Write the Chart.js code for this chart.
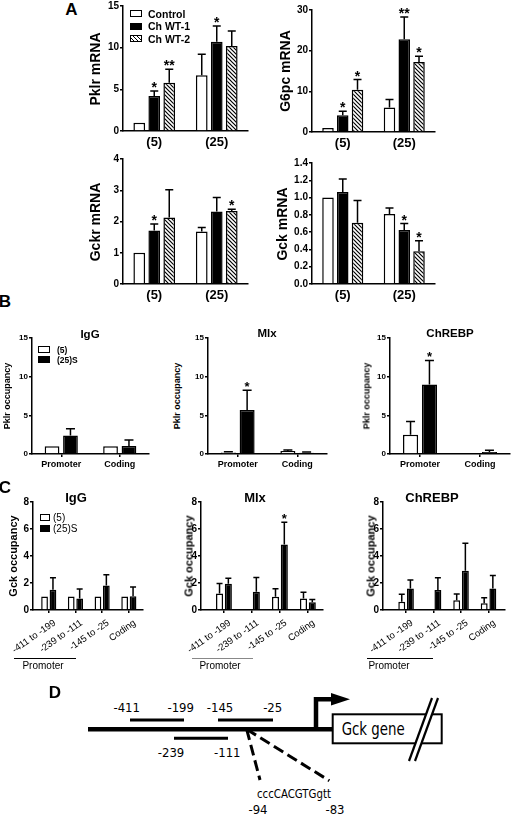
<!DOCTYPE html>
<html>
<head>
<meta charset="utf-8">
<script src="https://cdn.jsdelivr.net/npm/chart.js@4/dist/chart.umd.min.js"></script>
<style>
  body { margin: 0; background: #fff; }
  #fig { position: relative; width: 511px; height: 814px; overflow: hidden; background: #fff;
         font-family: 'Liberation Sans', Arial, sans-serif; }
  #fig canvas { position: absolute; }
  .t { position: absolute; white-space: nowrap; font-weight: bold; color: #000; line-height: 1;
       transform: translate(-50%, -50%); }
  .t.r { transform: translate(-50%, -50%) rotate(-90deg); }
  .t.l { transform: translate(0, -50%); }
  .sw { position: absolute; box-sizing: border-box; border: 1.5px solid #000; }
  .rule { position: absolute; height: 0; border-top: 1px solid #000; }
</style>
</head>
<body>
<div id="fig">
<svg width="511" height="144" style="position:absolute;left:0;top:670px"
     font-family="'Liberation Sans Narrow','DejaVu Sans Condensed',sans-serif" font-size="13">
  <line x1="88" y1="59.3" x2="333" y2="59.3" stroke="#000" stroke-width="4.5"/>
  <line x1="130" y1="50" x2="184" y2="50" stroke="#000" stroke-width="3"/>
  <line x1="218" y1="50" x2="273" y2="50" stroke="#000" stroke-width="3"/>
  <line x1="174" y1="68.3" x2="228" y2="68.3" stroke="#000" stroke-width="3"/>
  <text x="126.7" y="41.7" text-anchor="middle">-411</text>
  <text x="180.7" y="41.7" text-anchor="middle">-199</text>
  <text x="220" y="41.7" text-anchor="middle">-145</text>
  <text x="272.7" y="41.7" text-anchor="middle">-25</text>
  <text x="171" y="87" text-anchor="middle">-239</text>
  <text x="227.3" y="87" text-anchor="middle">-111</text>
  <line x1="246.7" y1="59.3" x2="260" y2="110" stroke="#000" stroke-width="3" stroke-dasharray="11 5"/>
  <line x1="246.7" y1="59.3" x2="329.3" y2="110.7" stroke="#000" stroke-width="3" stroke-dasharray="11 5"/>
  <text x="257" y="128" textLength="74" lengthAdjust="spacingAndGlyphs">cccCACGTGgtt</text>
  <text x="258" y="143.5" text-anchor="middle">-94</text>
  <text x="335" y="143.5" text-anchor="middle">-83</text>
  <polyline points="316,61 316,29.3 333,29.3" fill="none" stroke="#000" stroke-width="4.5"/>
  <polygon points="331,23 350,29.3 331,35.5" fill="#000"/>
  <rect x="332.7" y="44.3" width="109" height="29" fill="#fff" stroke="#000" stroke-width="2"/>
  <text x="341.7" y="65" font-size="18" textLength="63" lengthAdjust="spacingAndGlyphs">Gck gene</text>
  <polygon points="409,91 432,28 438,28 415,91" fill="#fff"/>
  <line x1="409" y1="91" x2="432" y2="28" stroke="#000" stroke-width="2.2"/>
  <line x1="415" y1="91" x2="438" y2="28" stroke="#000" stroke-width="2.2"/>
</svg>
</div>
<script>
// Panel A: mRNA, per series [(5), (25)]
const groupsA = ['(5)', '(25)'];
const seriesA = ['Control', 'Ch WT-1', 'Ch WT-2'];
const pklrValues = [[1.0, 6.7], [4.2, 10.7], [5.8, 10.2]];
const pklrErrors = [[0, 2.5], [0.6, 1.9], [1.6, 1.8]];
const pklrStars = [['', ''], ['*', '*'], ['**', '']];
const g6pcValues = [[1.0, 6.0], [4.1, 22.8], [10.4, 17.2]];
const g6pcErrors = [[0, 2.0], [1.0, 5.5], [2.5, 1.4]];
const g6pcStars = [['', ''], ['*', '**'], ['*', '*']];
const gckrValues = [[1.0, 1.68], [1.71, 2.32], [2.13, 2.34]];
const gckrErrors = [[0, 0.13], [0.21, 0.45], [0.89, 0.05]];
const gckrStars = [['', ''], ['*', ''], ['', '*']];
const gckValues = [[1.0, 0.81], [1.065, 0.625], [0.71, 0.38]];
const gckErrors = [[0, 0.07], [0.15, 0.075], [0.255, 0.12]];
const gckStars = [['', ''], ['', '*'], ['', '*']];

// Panel B: Pklr occupancy, per series [Promoter, Coding]
const regionsB = ['Promoter', 'Coding'];
const seriesBC = ['(5)', '(25)S'];
const igGPklrValues = [[1.0, 1.0], [2.4, 1.05]];
const igGPklrErrors = [[0, 0], [0.85, 0.75]];
const mlxPklrValues = [[0.2, 0.38], [5.7, 0.15]];
const mlxPklrErrors = [[0.1, 0.15], [2.55, 0.1]];
const mlxPklrStars = [['', ''], ['*', '']];
const chrebpPklrValues = [[2.5, null], [9.0, 0.25]];
const chrebpPklrErrors = [[1.7, 0], [3.1, 0.22]];
const chrebpPklrStars = [['', ''], ['*', '']];

// Panel C: Gck occupancy, per series over regions
const regionsC = ['-411 to -199', '-239 to -111', '-145 to -25', 'Coding'];
const igGGckValues = [[1.0, 1.0, 1.0, 1.0], [1.5, 0.85, 1.82, 1.02]];
const igGGckErrors = [[0, 0, 0, 0], [0.88, 0.7, 0.8, 0.68]];
const mlxGckValues = [[1.22, null, 0.98, 0.85], [1.95, 1.35, 4.85, 0.57]];
const mlxGckErrors = [[0.75, 0, 0.6, 0.47], [0.4, 1.05, 1.65, 0.2]];
const mlxGckStars = [['', '', '', ''], ['', '', '*', '']];
const chrebpGckValues = [[0.62, null, 0.73, 0.5], [1.6, 1.48, 2.9, 1.6]];
const chrebpGckErrors = [[0.55, 0, 0.45, 0.4], [0.63, 0.9, 2.05, 0.95]];

const FONT = "'Liberation Sans', Arial, sans-serif";
Chart.defaults.font.family = FONT;
Chart.defaults.color = '#000';

const fig = document.getElementById('fig');

function hatch() {
  const c = document.createElement('canvas');
  c.width = 4; c.height = 4;
  const g = c.getContext('2d');
  g.fillStyle = '#fff';
  g.fillRect(0, 0, 4, 4);
  g.strokeStyle = '#000';
  g.lineWidth = 1.2;
  g.beginPath();
  g.moveTo(-1, -1); g.lineTo(5, 5);
  g.moveTo(-1, 3); g.lineTo(1, 5);
  g.moveTo(3, -1); g.lineTo(5, 1);
  g.stroke();
  return g.createPattern(c, 'repeat');
}

function text(str, x, y, size, kind, weight) {
  const d = document.createElement('div');
  d.className = 't' + (kind ? ' ' + kind : '');
  d.textContent = str;
  d.style.left = x + 'px';
  d.style.top = y + 'px';
  d.style.fontSize = size + 'px';
  if (weight) d.style.fontWeight = weight;
  fig.appendChild(d);
}

function swatch(x, y, w, h, bg) {
  const d = document.createElement('div');
  d.className = 'sw';
  Object.assign(d.style, { left: x + 'px', top: y + 'px', width: w + 'px', height: h + 'px', background: bg });
  fig.appendChild(d);
}

function rule(x1, x2, y, color) {
  const d = document.createElement('div');
  d.className = 'rule';
  Object.assign(d.style, { left: x1 + 'px', top: y + 'px', width: (x2 - x1) + 'px' });
  if (color) d.style.borderTopColor = color;
  fig.appendChild(d);
}

// one-sided SEM bars and significance stars
const errorBars = {
  id: 'errorBars',
  afterDatasetsDraw(chart) {
    const ctx = chart.ctx;
    const ys = chart.scales.y;
    ctx.save();
    ctx.strokeStyle = '#000';
    ctx.fillStyle = '#000';
    ctx.lineWidth = 1.5;
    chart.data.datasets.forEach((ds, di) => {
      chart.getDatasetMeta(di).data.forEach((bar, i) => {
        const v = ds.data[i];
        if (v == null) return;
        const e = ds.errors[i] || 0;
        const top = ys.getPixelForValue(v + e);
        if (e > 0) {
          const half = ds.cap / 2;
          ctx.beginPath();
          ctx.moveTo(bar.x, bar.y);
          ctx.lineTo(bar.x, top);
          ctx.moveTo(bar.x - half, top);
          ctx.lineTo(bar.x + half, top);
          ctx.stroke();
        }
        const s = ds.stars && ds.stars[i];
        if (s) {
          ctx.font = 'bold ' + ds.starSize + 'px ' + FONT;
          ctx.textAlign = 'center';
          ctx.textBaseline = 'alphabetic';
          ctx.fillText(s, bar.x, top + 1);
        }
      });
    });
    ctx.restore();
  }
};

// slanted category labels, placed at the x scale's tick pixels
const slantLabels = {
  id: 'slantLabels',
  afterDraw(chart, args, opts) {
    if (!opts.angle) return;
    const ctx = chart.ctx;
    const xs = chart.scales.x;
    ctx.save();
    ctx.fillStyle = '#000';
    ctx.font = opts.size + 'px ' + FONT;
    ctx.textAlign = 'right';
    ctx.textBaseline = 'middle';
    chart.data.labels.forEach((lab, i) => {
      ctx.save();
      ctx.translate(xs.getPixelForTick(i) + opts.dx, xs.top + opts.dy);
      ctx.rotate(-opts.angle * Math.PI / 180);
      ctx.fillText(lab, 0, 0);
      ctx.restore();
    });
    ctx.restore();
  }
};

function barChart(box, labels, names, values, errors, stars, fills, o) {
  const cv = document.createElement('canvas');
  const w = box.yW + box.axisEnd - box.axisX + box.padR;
  const h = box.padTop + box.yBottom - box.yTop + box.xH;
  cv.width = w;
  cv.height = h;
  cv.style.left = (box.axisX - box.yW) + 'px';
  cv.style.top = (box.yTop - box.padTop) + 'px';
  fig.appendChild(cv);

  const datasets = values.map((v, i) => ({
    label: names[i],
    data: v,
    errors: errors[i],
    stars: stars ? stars[i] : null,
    cap: o.cap,
    starSize: o.starSize,
    backgroundColor: fills[i],
    borderColor: '#000',
    borderWidth: 1.5,
    categoryPercentage: o.catPct,
    barPercentage: o.barPct
  }));

  const custom = o.offL != null;
  return new Chart(cv, {
    type: 'bar',
    data: { labels: labels, datasets: datasets },
    options: {
      responsive: false,
      animation: false,
      events: [],
      layout: { padding: { top: box.padTop, right: box.padR, left: 0, bottom: 0 } },
      plugins: {
        legend: { display: false },
        tooltip: { enabled: false },
        slantLabels: o.slant || {}
      },
      scales: {
        x: {
          offset: !custom,
          grid: { display: o.xTicks, drawOnChartArea: false, drawTicks: o.xTicks, tickLength: o.xTicks ? 3 : 0,
                  offset: false, color: '#000', lineWidth: 1.5 },
          border: { display: true, color: '#000', width: 1.5 },
          ticks: { display: !o.slant, color: '#000', font: o.xFont, padding: o.xPad, autoSkip: false, maxRotation: 0 },
          afterFit: s => { s.height = box.xH; },
          afterBuildTicks: custom ? s => {
            s._startValue = -o.offL;
            s._valueRange = labels.length - 1 + o.offL + o.offR;
          } : undefined
        },
        y: {
          min: 0,
          max: o.yMax,
          grid: { display: true, drawOnChartArea: false, drawTicks: true, tickLength: 3, color: '#000', lineWidth: 1.5 },
          border: { display: true, color: '#000', width: 1.5 },
          ticks: { color: '#000', stepSize: o.yStep, font: o.yFont, padding: 1,
                   callback: o.yFmt || (v => v) },
          afterFit: s => { s.width = box.yW; }
        }
      }
    },
    plugins: [errorBars, slantLabels]
  });
}

const stripes = hatch();
const fillsA = ['#fff', '#000', stripes];
const fillsBC = ['#fff', '#000'];

// ---- Panel A ----
const optA = { catPct: 0.72, barPct: 0.78, cap: 8, starSize: 14, xTicks: false, xPad: 4,
               xFont: { size: 13, weight: 'bold' }, yFont: { size: 10, weight: 'bold' } };
const sideA = { yW: 30, padTop: 7, padR: 8, xH: 22 };

barChart(Object.assign({ axisX: 123, axisEnd: 248, yTop: 6, yBottom: 131 }, sideA),
  groupsA, seriesA, pklrValues, pklrErrors, pklrStars, fillsA, Object.assign({ yMax: 15, yStep: 5 }, optA));
barChart(Object.assign({ axisX: 312, axisEnd: 435, yTop: 10, yBottom: 132 }, sideA),
  groupsA, seriesA, g6pcValues, g6pcErrors, g6pcStars, fillsA, Object.assign({ yMax: 30, yStep: 10 }, optA));
barChart(Object.assign({ axisX: 123, axisEnd: 248, yTop: 159, yBottom: 284 }, sideA),
  groupsA, seriesA, gckrValues, gckrErrors, gckrStars, fillsA, Object.assign({ yMax: 4, yStep: 1 }, optA));
barChart(Object.assign({ axisX: 312, axisEnd: 435, yTop: 163, yBottom: 284 }, sideA),
  groupsA, seriesA, gckValues, gckErrors, gckStars, fillsA,
  Object.assign({ yMax: 1.4, yStep: 0.2, yFmt: v => v.toFixed(1) }, optA));

text('A', 71.5, 9, 17);
text('Pklr mRNA', 95, 68.5, 14, 'r');
text('G6pc mRNA', 285, 71, 14, 'r');
text('Gckr mRNA', 95, 222, 14, 'r');
text('Gck mRNA', 282, 224, 14, 'r');
swatch(130, 10, 12, 7, '#fff');
swatch(130, 23, 12, 7, '#000');
swatch(130, 35, 12, 7, 'repeating-linear-gradient(45deg, #fff 0 1.6px, #000 1.6px 2.8px)');
text(seriesA[0], 148, 13.5, 10.5, 'l');
text(seriesA[1], 148, 26, 10.5, 'l');
text(seriesA[2], 148, 38.5, 10.5, 'l');

// ---- Panel B ----
const optB = { catPct: 0.63, barPct: 0.8, cap: 9, starSize: 13, xTicks: true, xPad: 2, yMax: 15, yStep: 5,
               xFont: { size: 9, weight: 'bold' }, yFont: { size: 8, weight: 'bold' } };
const sideB = { yW: 24, padTop: 7, padR: 6, xH: 20, yTop: 338, yBottom: 454 };

barChart(Object.assign({ axisX: 32, axisEnd: 149 }, sideB),
  regionsB, seriesBC, igGPklrValues, igGPklrErrors, null, fillsBC, optB);
barChart(Object.assign({ axisX: 208, axisEnd: 327 }, sideB),
  regionsB, seriesBC, mlxPklrValues, mlxPklrErrors, mlxPklrStars, fillsBC, optB);
barChart(Object.assign({ axisX: 390, axisEnd: 510 }, sideB, { padR: 1 }),
  regionsB, seriesBC, chrebpPklrValues, chrebpPklrErrors, chrebpPklrStars, fillsBC, optB);

text('B', 5, 301, 17);
text('IgG', 90, 335, 11.5);
text('Mlx', 267, 334, 11.5);
text('ChREBP', 450, 334, 11.5);
[7, 177, 367].forEach(x => text('Pklr occupancy', x, 396, 9, 'r'));
swatch(38, 346, 12, 6.5, '#fff');
swatch(38, 356, 12, 6.5, '#000');
text(seriesBC[0], 57, 349.5, 8.5, 'l');
text(seriesBC[1], 57, 359.5, 8.5, 'l');

// ---- Panel C ----
const optC = { catPct: 0.63, barPct: 0.8, cap: 6, starSize: 13, xTicks: true, xPad: 4, yMax: 8, yStep: 2,
               slant: { angle: 35, size: 9.5, dx: 6, dy: 12 },
               xFont: { size: 9 }, yFont: { size: 10, weight: 'bold' } };
const sideC = { yW: 36, padTop: 7, padR: 6, xH: 60, yTop: 502, yBottom: 610 };

barChart(Object.assign({ axisX: 33, axisEnd: 143 }, sideC),
  regionsC, seriesBC, igGGckValues, igGGckErrors, null, fillsBC, Object.assign({ offL: 0.59, offR: 0.53 }, optC));
barChart(Object.assign({ axisX: 201, axisEnd: 323 }, sideC),
  regionsC, seriesBC, mlxGckValues, mlxGckErrors, mlxGckStars, fillsBC, Object.assign({ offL: 0.82, offR: 0.54 }, optC));
barChart(Object.assign({ axisX: 383, axisEnd: 505 }, sideC),
  regionsC, seriesBC, chrebpGckValues, chrebpGckErrors, null, fillsBC, Object.assign({ offL: 0.84, offR: 0.6 }, optC));

text('C', 5, 487, 17);
text('IgG', 76, 497, 13);
text('Mlx', 255, 497, 13);
text('ChREBP', 432, 497, 13);
text('Gck occupancy', 13, 556, 11, 'r');
text('Gck occupancy', 189, 556, 11, 'r');
text('Gck occupancy', 371, 556, 11, 'r');
swatch(40, 514, 10, 7, '#fff');
swatch(40, 525, 10, 7, '#000');
text(seriesBC[0], 53, 517.5, 10, 'l', 'normal');
text(seriesBC[1], 53, 528.5, 10, 'l', 'normal');
rule(14, 76, 658);
rule(192, 253, 658, '#888');
rule(367, 433, 658);
text('Promoter', 43, 666, 10, '', 'normal');
text('Promoter', 220, 666, 10, '', 'normal');
text('Promoter', 389, 666, 10, '', 'normal');

// ---- Panel D ----
text('D', 55, 691.5, 17);
</script>
</body>
</html>
